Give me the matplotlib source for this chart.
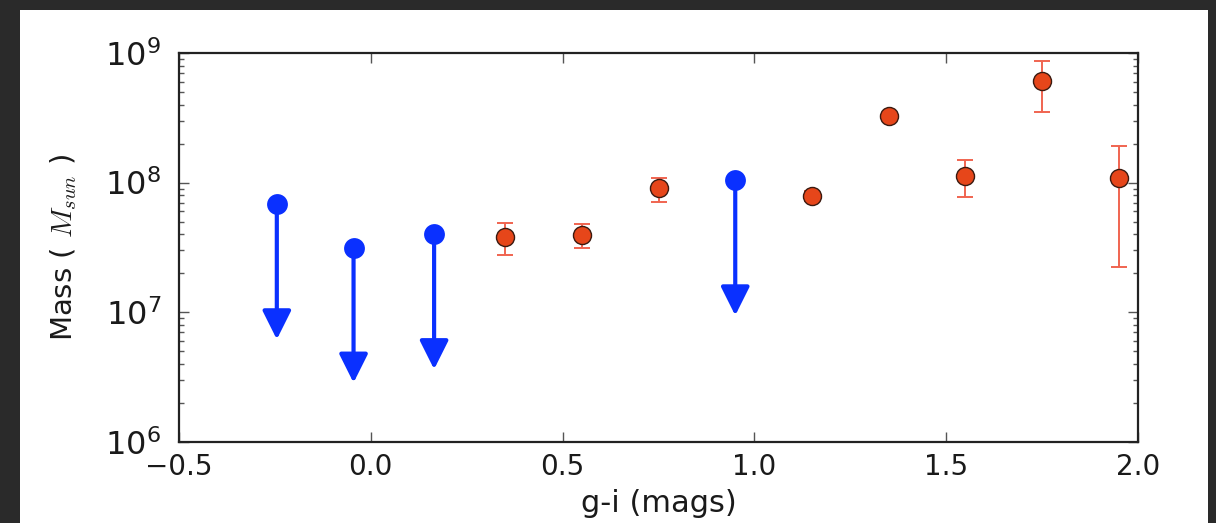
import matplotlib
matplotlib.use("Agg")
import matplotlib.pyplot as plt
from matplotlib.patches import Rectangle
from matplotlib.ticker import LogLocator, MultipleLocator, NullFormatter

# upper limits (blue)
lim_x = [-0.245, -0.045, 0.165, 0.95]
lim_y = [6.8e7, 3.15e7, 4.0e7, 1.04e8]

# measured masses (red)
gi = [0.35, 0.55, 0.75, 1.15, 1.35, 1.55, 1.75, 1.95]
mass = [3.79e7, 3.95e7, 9.06e7, 7.93e7, 3.27e8, 1.12e8, 6.11e8, 1.08e8]
mass_hi = [4.91e7, 4.80e7, 1.09e8, 8.6e7, 3.45e8, 1.50e8, 8.7e8, 1.93e8]
mass_lo = [2.77e7, 3.12e7, 7.13e7, 7.2e7, 3.1e8, 7.8e7, 3.49e8, 2.25e7]

red = "#e6461a"
blue = "#0a30ff"

fig = plt.figure(figsize=(12.16, 5.23), dpi=100, facecolor="#2a2a2a")
fig.patches.append(Rectangle((0.0165, 0.0), 0.977, 0.981, transform=fig.transFigure,
                             facecolor="white", edgecolor="none", zorder=-10))

ax = fig.add_axes([0.1472, 0.1549, 0.7887, 0.7438])
ax.set_yscale("log")

# red points with error bars
err_lo = [m - l for m, l in zip(mass, mass_lo)]
err_hi = [h - m for m, h in zip(mass, mass_hi)]
ax.errorbar(gi, mass, yerr=[err_lo, err_hi], fmt="none", ecolor="#f06450",
            elinewidth=1.4, capsize=6, capthick=1.4, zorder=2)
ax.plot(gi, mass, "o", color=red, markersize=13, markeredgecolor="#3a1a10",
        markeredgewidth=1.0, zorder=3)

# blue upper limits
for x, y in zip(lim_x, lim_y):
    ax.annotate("", xy=(x, y / 11.0), xytext=(x, y),
                arrowprops=dict(arrowstyle="-|>,head_length=1.1,head_width=0.55",
                                color=blue, lw=3.0, mutation_scale=16,
                                shrinkA=0, shrinkB=0), zorder=3)
ax.plot(lim_x, lim_y, "o", color=blue, markersize=15, markeredgewidth=0, zorder=4)

ax.set_xlim(-0.5, 2.0)
ax.set_ylim(1e6, 1e9)
ax.xaxis.set_major_locator(MultipleLocator(0.5))
ax.yaxis.set_major_locator(LogLocator(base=10))
ax.yaxis.set_minor_locator(LogLocator(base=10, subs=range(2, 10)))
ax.yaxis.set_minor_formatter(NullFormatter())

ax.tick_params(which="both", direction="in", top=True, right=True, colors="#555555",
               labelcolor="#1a1a1a")
ax.tick_params(which="major", length=7, width=1.0)
ax.tick_params(which="minor", length=3.5, width=1.0)
ax.tick_params(axis="x", labelsize=20, pad=8)
ax.tick_params(axis="y", labelsize=23, pad=13)
for s in ax.spines.values():
    s.set_linewidth(1.6)
    s.set_color("#222222")

ax.set_xlabel("g-i (mags)", fontsize=22, color="#1a1a1a", labelpad=6)
ax.set_ylabel("Mass ( $M_{sun}$ )", fontsize=21, color="#1a1a1a", labelpad=19,
              math_fontfamily="cm")

fig.savefig("out.png", dpi=100, facecolor=fig.get_facecolor())
